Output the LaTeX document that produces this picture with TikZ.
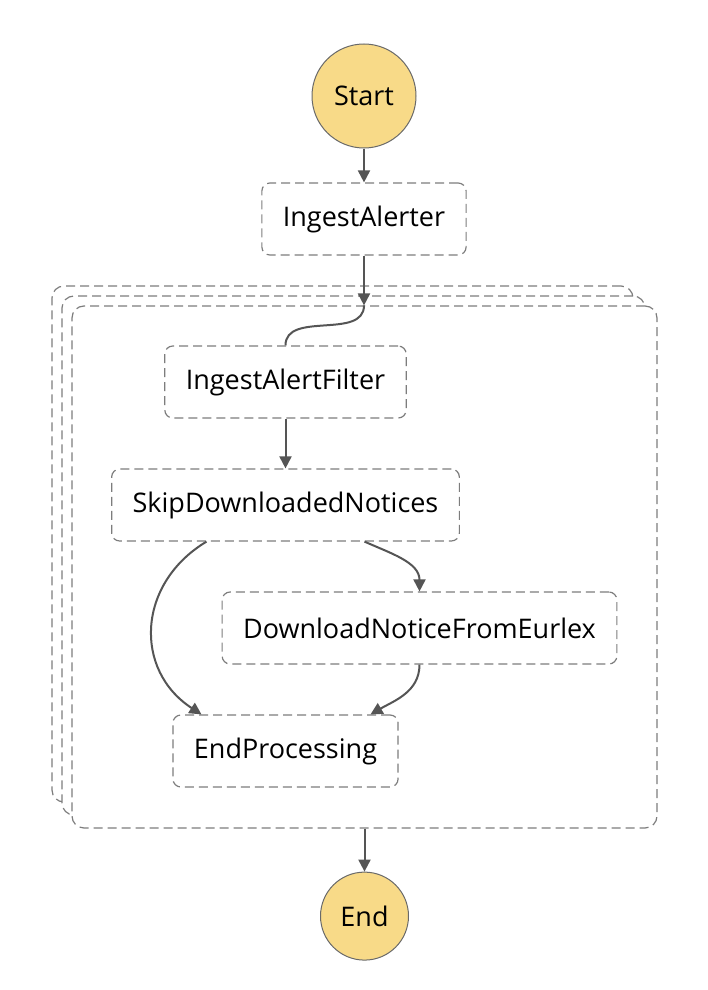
\documentclass[tikz,border=0pt]{standalone}
\usepackage{fontspec}
\setmainfont{Open Sans}
\usetikzlibrary{arrows.meta,positioning}

\definecolor{startyellow}{RGB}{248,218,136}
\definecolor{rimgrey}{RGB}{105,105,105}
\definecolor{dashgrey}{RGB}{125,125,125}
\definecolor{linkgrey}{RGB}{85,85,85}

\begin{document}
\begin{tikzpicture}[>={Triangle[width=12pt,length=12pt]},
    node distance=123pt,
    every node/.style={font=\fontsize{27}{30}\selectfont},
    terminal/.style={circle, draw=rimgrey, line width=1pt, fill=startyellow, inner sep=0pt},
    task/.style={draw=dashgrey, line width=1.2pt, dash pattern=on 9pt off 5pt,
      rounded corners=8pt, minimum height=72pt, inner xsep=21pt, fill=white},
    mapbox/.style={draw=dashgrey, line width=1.2pt, dash pattern=on 9pt off 5pt,
      rounded corners=12pt, fill=white, inner sep=0pt},
    link/.style={->, draw=linkgrey, line width=2pt}
  ]
  \useasboundingbox (0pt,0pt) rectangle (708pt,-990pt);

  % stacked map iterations
  \node[mapbox, minimum width=581pt, minimum height=516pt] (map1) at (342.5pt,-544pt) {};
  \node[mapbox, minimum width=583pt, minimum height=519pt] (map2) at (353.5pt,-555.5pt) {};
  \node[mapbox, minimum width=585pt, minimum height=522pt] (map)  at (364.5pt,-567pt) {};

  \node[terminal, minimum size=104pt] (start) at (364pt,-96pt)              {Start};
  \node[task]                         (alerter)  [below of=start]             {IngestAlerter};
  \node[task]                         (filter)   [below of=alerter, xshift=-78.5pt, yshift=-40pt] {IngestAlertFilter};
  \node[task]                         (skip)     [below of=filter]            {SkipDownloadedNotices};
  \node[task]                         (download) [below of=skip, xshift=134pt] {DownloadNoticeFromEurlex};
  \node[task]                         (endproc)  [below of=download, xshift=-134pt] {EndProcessing};
  \node[terminal, minimum size=88pt]  (end)      [below=43pt of map]          {End};

  \draw[link] (start) -- (alerter);
  \draw[link] (alerter.south) -- (alerter.south |- map.north);
  \draw[link, -] (alerter.south |- map.north) to[out=-90, in=90] (filter.north);
  \draw[link] (filter) -- (skip);
  \draw[link] ([xshift=-79pt]skip.south) to[out=211, in=147, looseness=1.2] ([xshift=-84pt]endproc.north);
  \draw[link] ([xshift=79pt]skip.south) to[out=-24, in=90] (download.north);
  \draw[link] (download.south) to[out=-90, in=30] ([xshift=85pt]endproc.north);
  \draw[link] (map.south) -- (end);
\end{tikzpicture}
\end{document}
